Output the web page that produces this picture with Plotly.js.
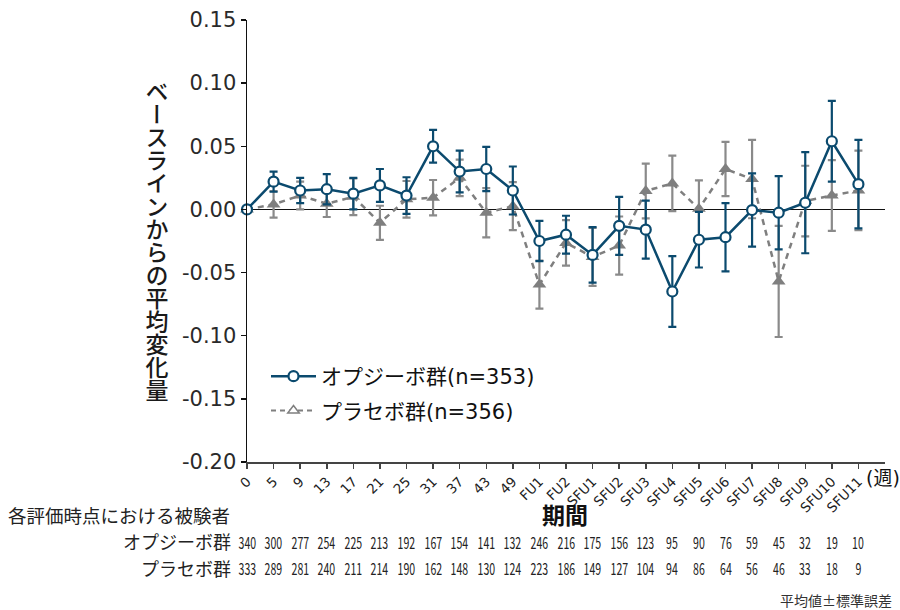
<!DOCTYPE html>
<html>
<head>
<meta charset="utf-8">
<script src="https://cdn.plot.ly/plotly-3.0.1.min.js"></script>
<style>html,body{margin:0;padding:0;background:#fff;}#chart{width:900px;height:610px;}</style>
</head>
<body>
<div id="chart"></div>
<script>
var categories = ['0','5','9','13','17','21','25','31','37','43','49','FU1','FU2','SFU1','SFU2','SFU3','SFU4','SFU5','SFU6','SFU7','SFU8','SFU9','SFU10','SFU11'];
var opdivoMean = [0, 0.022, 0.015, 0.016, 0.0125, 0.019, 0.011, 0.050, 0.030, 0.032, 0.015, -0.025, -0.020, -0.036, -0.013, -0.016, -0.065, -0.024, -0.022, -0.0005, -0.0026, 0.0053, 0.054, 0.020];
var opdivoSE = [0, 0.008, 0.010, 0.012, 0.0125, 0.013, 0.0145, 0.013, 0.0165, 0.0175, 0.019, 0.016, 0.015, 0.022, 0.023, 0.023, 0.028, 0.022, 0.027, 0.029, 0.029, 0.040, 0.032, 0.035];
var placeboMean = [0, 0.004, 0.011, 0.0045, 0.010, -0.0106, 0.008, 0.0093, 0.025, -0.0026, 0.0026, -0.0595, -0.0265, -0.0376, -0.0286, 0.0146, 0.0206, 0.0005, 0.032, 0.024, -0.057, 0.0066, 0.011, 0.015];
var placeboSE = [0, 0.0105, 0.011, 0.0105, 0.0145, 0.0135, 0.0145, 0.014, 0.0145, 0.0195, 0.019, 0.019, 0.018, 0.023, 0.023, 0.0217, 0.022, 0.0225, 0.0215, 0.031, 0.044, 0.028, 0.028, 0.0315];
var opdivoN = [340,300,277,254,225,213,192,167,154,141,132,246,216,175,156,123,95,90,76,59,45,32,19,10];
var placeboN = [333,289,281,240,211,214,190,162,148,130,124,223,186,149,127,104,94,86,64,56,46,33,18,9];
var yTickVals = [0.15, 0.10, 0.05, 0, -0.05, -0.10, -0.15, -0.20];
var yTickText = ['0.15', '0.10', '0.05', '0.00', '-0.05', '-0.10', '-0.15', '-0.20'];
var opdivoName = 'オプジーボ群(n=353)';
var placeboName = 'プラセボ群(n=356)';
var yTitle = 'ベースラインからの平均変化量';
var xTitle = '期間';
var unitLabel = '(週)';
var tableTitle = '各評価時点における被験者';
var row1Label = 'オプジーボ群';
var row2Label = 'プラセボ群';
var footnote = '平均値±標準誤差';

var blue = '#0b4a6e';
var gray = '#7f7f7f';
var FONT = '"Noto Sans CJK JP", "Noto Sans", sans-serif';
var MIXFONT = '"DejaVu Sans", "Noto Sans CJK JP", sans-serif';

var data = [
  {
    x: categories, y: placeboMean, type: 'scatter', mode: 'lines+markers', showlegend: false,
    cliponaxis: false,
    line: {color: gray, width: 2.5, dash: '6px,5px'},
    marker: {symbol: 'triangle-up', size: 12, color: gray},
    error_y: {type: 'data', array: placeboSE, visible: true, color: '#8a8a8a', thickness: 2.2, width: 4}
  },
  {
    x: categories, y: opdivoMean, type: 'scatter', mode: 'lines+markers', showlegend: false,
    cliponaxis: false,
    line: {color: blue, width: 2.5},
    marker: {symbol: 'circle', size: 10, color: '#ffffff', line: {color: blue, width: 2.2}},
    error_y: {type: 'data', array: opdivoSE, visible: true, color: blue, thickness: 2.2, width: 4}
  },
  {
    x: [null], y: [null], type: 'scatter', mode: 'lines+markers', name: opdivoName, legendgroup: 'a',
    line: {color: blue, width: 2.5},
    marker: {symbol: 'circle', size: 10, color: '#ffffff', line: {color: blue, width: 2.2}}
  },
  {
    x: [null], y: [null], type: 'scatter', mode: 'lines+markers', name: placeboName, legendgroup: 'b',
    line: {color: gray, width: 2, dash: '5px,4px'},
    marker: {symbol: 'triangle-up', size: 10, color: '#ffffff', line: {color: gray, width: 1.5}}
  }
];

var annotations = [];
function pxX(px){ return (px - 247) / 638; }
function pxY(py){ return (462 - py) / 442; }

annotations.push({text: yTitle, xref: 'paper', yref: 'paper', x: pxX(157), y: pxY(241), showarrow: false,
  font: {family: FONT, size: 23, color: '#1a1a1a', weight: 500}, xanchor: 'center', yanchor: 'middle'});
annotations.push({text: xTitle, xref: 'paper', yref: 'paper', x: pxX(565), y: pxY(514), showarrow: false,
  font: {family: FONT, size: 23, color: '#111', weight: 'bold'}, xanchor: 'center', yanchor: 'middle'});
annotations.push({text: unitLabel, xref: 'paper', yref: 'paper', x: pxX(864), y: pxY(478), showarrow: false,
  font: {family: MIXFONT, size: 19, color: '#111'}, xanchor: 'left', yanchor: 'middle'});
annotations.push({text: tableTitle, xref: 'paper', yref: 'paper', x: pxX(6), y: pxY(515), showarrow: false,
  font: {family: FONT, size: 18.5, color: '#222'}, xanchor: 'left', yanchor: 'middle'});
annotations.push({text: row1Label, xref: 'paper', yref: 'paper', x: pxX(233), y: pxY(541), showarrow: false,
  font: {family: FONT, size: 18, color: '#222'}, xanchor: 'right', yanchor: 'middle'});
annotations.push({text: row2Label, xref: 'paper', yref: 'paper', x: pxX(233), y: pxY(568), showarrow: false,
  font: {family: FONT, size: 18, color: '#222'}, xanchor: 'right', yanchor: 'middle'});
annotations.push({text: footnote, xref: 'paper', yref: 'paper', x: pxX(894), y: pxY(600), showarrow: false,
  font: {family: FONT, size: 14, color: '#333'}, xanchor: 'right', yanchor: 'middle'});
for (var i = 0; i < categories.length; i++) {
  annotations.push({text: String(opdivoN[i]), xref: 'x', yref: 'paper', x: i, y: pxY(542), showarrow: false,
    font: {family: FONT, size: 16, color: '#222'}, xanchor: 'center', yanchor: 'middle'});
  annotations.push({text: String(placeboN[i]), xref: 'x', yref: 'paper', x: i, y: pxY(568), showarrow: false,
    font: {family: FONT, size: 16, color: '#222'}, xanchor: 'center', yanchor: 'middle'});
}

var layout = {
  width: 900, height: 610,
  margin: {l: 247, r: 15, t: 20, b: 148},
  paper_bgcolor: '#ffffff', plot_bgcolor: '#ffffff',
  font: {family: FONT, color: '#111'},
  xaxis: {
    type: 'category', range: [0, 24], showgrid: false, zeroline: false,
    showline: true, linecolor: '#444', linewidth: 1.5,
    ticks: 'outside', ticklen: 5, tickcolor: '#444', tickwidth: 1.5,
    tickangle: -45, tickfont: {family: MIXFONT, size: 13.5, color: '#222'}
  },
  yaxis: {
    range: [-0.2, 0.15], tickmode: 'array', tickvals: yTickVals, ticktext: yTickText, showgrid: false,
    zeroline: true, zerolinecolor: '#111', zerolinewidth: 1.2,
    showline: true, linecolor: '#111', linewidth: 1.5,
    ticks: 'outside', ticklen: 5, tickcolor: '#111', tickwidth: 1.5,
    tickfont: {family: MIXFONT, size: 21, color: '#2a2a2a'}
  },
  legend: {
    x: pxX(266), y: pxY(356), xanchor: 'left', yanchor: 'top',
    bgcolor: 'rgba(0,0,0,0)', font: {family: MIXFONT, size: 21, color: '#111'},
    itemwidth: 45, tracegroupgap: 4, traceorder: 'grouped'
  },
  annotations: annotations,
  showlegend: true
};

Plotly.newPlot('chart', data, layout, {displayModeBar: false, staticPlot: true}).then(function(gd){
  var texts = gd.querySelectorAll('.annotation-text');
  texts.forEach(function(t){
    if (t.textContent === yTitle) {
      t.style.writingMode = 'vertical-rl';
      var r = t.getBoundingClientRect();
      var cx = r.left + r.width / 2, cy = r.top + r.height / 2;
      t.setAttribute('transform', 'translate(' + (157 - cx) + ',' + (241 - cy) + ')');
    } else if (/^\d+$/.test(t.textContent)) {
      var b = t.getBBox();
      var c = b.x + b.width / 2;
      t.setAttribute('transform', 'translate(' + c + ',0) scale(0.66,1) translate(' + (-c) + ',0)');
    }
  });
});
</script>
</body>
</html>
